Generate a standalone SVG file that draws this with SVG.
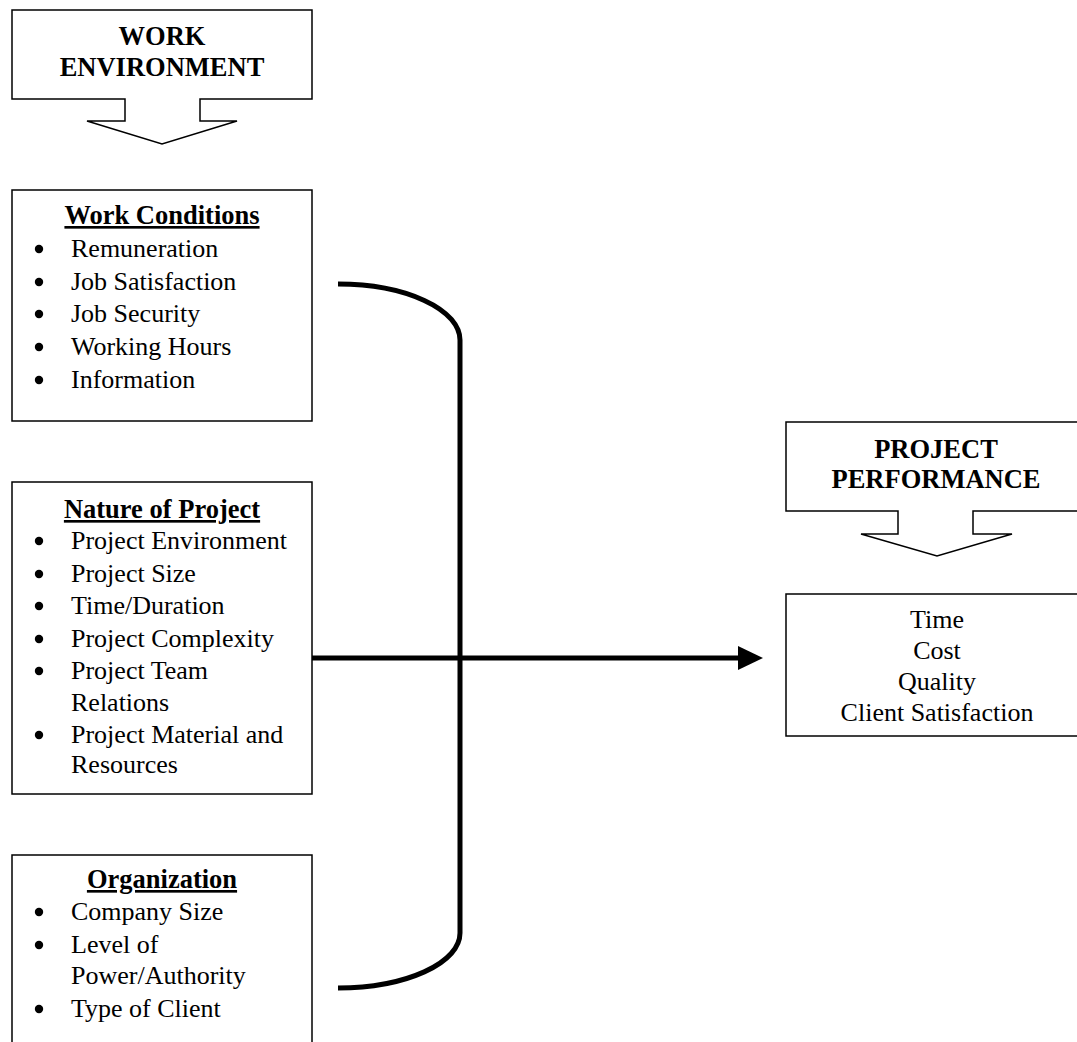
<svg xmlns="http://www.w3.org/2000/svg" width="1077" height="1042" viewBox="0 0 1077 1042">
<defs>
<style>
.box{fill:#fff;stroke:#000;stroke-width:1.5}
.h{font-family:"Liberation Serif","Times New Roman",serif;font-size:26.5px;font-weight:bold;text-anchor:middle}
.u{text-decoration:underline}
.t{font-family:"Liberation Serif","Times New Roman",serif;font-size:26px}
.c{text-anchor:middle}
.b{fill:#000}
.conn{fill:none;stroke:#000;stroke-width:5}
</style>
<marker id="arr" markerWidth="25" markerHeight="24" refX="0" refY="12" orient="auto" markerUnits="userSpaceOnUse">
<path d="M0,0 L25,12 L0,24 Z" fill="#000"/>
</marker>
</defs>
<rect width="1077" height="1042" fill="#fff"/>
<g id="work-environment">
<path class="box" d="M12,10 H312 V99 H200 V121 H237 L162,144 L87,121 H125 V99 H12 Z"/>
<text class="h" x="162" y="45">WORK</text>
<text class="h" x="162" y="76">ENVIRONMENT</text>
</g>
<g id="work-conditions">
<rect class="box" x="12" y="190" width="300" height="231"/>
<text class="h u" x="162" y="224">Work Conditions</text>
<g class="b">
<circle cx="39" cy="249" r="4.2"/><circle cx="39" cy="282" r="4.2"/><circle cx="39" cy="314" r="4.2"/><circle cx="39" cy="347" r="4.2"/><circle cx="39" cy="380" r="4.2"/>
</g>
<g class="t">
<text x="71" y="257">Remuneration</text>
<text x="71" y="290">Job Satisfaction</text>
<text x="71" y="322">Job Security</text>
<text x="71" y="355">Working Hours</text>
<text x="71" y="388">Information</text>
</g>
</g>
<g id="nature-of-project">
<rect class="box" x="12" y="482" width="300" height="312"/>
<text class="h u" x="162" y="518">Nature of Project</text>
<g class="b">
<circle cx="39" cy="541" r="4.2"/><circle cx="39" cy="574" r="4.2"/><circle cx="39" cy="606" r="4.2"/><circle cx="39" cy="639" r="4.2"/><circle cx="39" cy="671" r="4.2"/><circle cx="39" cy="735" r="4.2"/>
</g>
<g class="t">
<text x="71" y="549">Project Environment</text>
<text x="71" y="582">Project Size</text>
<text x="71" y="614">Time/Duration</text>
<text x="71" y="647">Project Complexity</text>
<text x="71" y="679">Project Team</text>
<text x="71" y="711">Relations</text>
<text x="71" y="743">Project Material and</text>
<text x="71" y="773">Resources</text>
</g>
</g>
<g id="organization">
<rect class="box" x="12" y="855" width="300" height="200"/>
<text class="h u" x="162" y="888">Organization</text>
<g class="b">
<circle cx="39" cy="912" r="4.2"/><circle cx="39" cy="945" r="4.2"/><circle cx="39" cy="1009" r="4.2"/>
</g>
<g class="t">
<text x="71" y="920">Company Size</text>
<text x="71" y="953">Level of</text>
<text x="71" y="984">Power/Authority</text>
<text x="71" y="1017">Type of Client</text>
</g>
</g>
<g id="project-performance">
<path class="box" d="M786,422 H1085 V511 H973 V534 H1012 L937,556 L861,534 H898 V511 H786 Z"/>
<text class="h" x="936" y="458">PROJECT</text>
<text class="h" x="936" y="488">PERFORMANCE</text>
</g>
<g id="outcomes">
<rect class="box" x="786" y="594" width="300" height="142"/>
<g class="t c">
<text x="937" y="628">Time</text>
<text x="937" y="659">Cost</text>
<text x="937" y="690">Quality</text>
<text x="937" y="721">Client Satisfaction</text>
</g>
</g>
<g id="connectors">
<path class="conn" d="M338,284 A122,56 0 0 1 460,340 L460,933 A122,55 0 0 1 338,988"/>
<line class="conn" x1="312" y1="658" x2="738" y2="658" marker-end="url(#arr)"/>
</g>
</svg>
